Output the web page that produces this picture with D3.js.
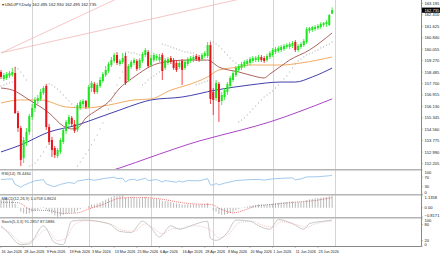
<!DOCTYPE html>
<html>
<head>
<meta charset="utf-8">
<script src="https://cdn.jsdelivr.net/npm/d3@7"></script>
<style>
  body { margin: 0; background: #fff; }
  svg { display: block; font-family: "Liberation Sans", Arial, sans-serif; }
</style>
</head>
<body>
<svg id="chart"></svg>
<script>
// Daily USDJPY bars, 16 Jan 2026 .. 30 Jun 2026
const opens = [158.49,158.01,158.08,158.22,158.28,158.42,155.67,154.64,152.58,153.75,
  154.37,155.40,156.02,156.50,156.64,157.05,157.53,154.71,153.82,153.27,
  152.72,153.00,153.68,154.44,154.92,155.33,154.92,154.51,156.02,156.29,
  156.50,156.09,157.39,157.67,157.12,157.53,157.87,158.28,158.56,158.97,
  159.25,159.66,159.04,159.18,159.59,157.94,158.83,159.11,159.25,158.77,
  159.25,159.66,159.86,158.97,159.31,159.45,159.31,159.66,158.77,159.11,
  159.45,159.31,159.11,158.83,159.25,158.77,159.04,159.25,159.31,159.59,
  159.52,159.38,159.59,159.59,160.34,157.12,156.70,157.67,156.50,156.77,
  157.12,157.53,157.94,158.28,158.63,158.77,158.90,159.04,159.11,159.25,
  159.31,159.31,159.52,159.45,159.31,159.52,159.66,159.86,159.93,160.00,
  160.07,160.21,160.21,160.28,160.55,160.00,160.21,160.34,160.55,161.31,
  161.38,161.44,161.51,161.58,161.72,161.79,161.72,162.495];
const highs = [158.63,158.42,158.49,158.56,158.77,158.83,155.81,154.78,154.03,154.64,
  155.61,156.29,156.77,156.91,157.32,157.53,157.67,154.92,154.03,153.41,
  153.27,153.96,154.64,155.19,155.54,155.47,155.19,156.36,156.57,156.64,
  156.57,157.60,157.87,157.80,157.74,158.15,158.49,158.90,159.18,159.52,
  159.80,159.86,159.38,159.80,159.80,159.04,159.31,159.45,159.38,159.45,
  159.86,160.14,160.00,159.66,159.80,159.73,159.73,159.80,159.45,159.52,
  159.59,159.45,159.31,159.25,159.38,159.31,159.52,159.59,159.66,159.73,
  159.66,159.80,159.93,160.55,160.55,157.39,157.94,157.80,157.12,157.39,
  157.80,158.22,158.56,158.90,159.04,159.18,159.31,159.38,159.52,159.59,
  159.59,159.66,159.66,159.59,159.73,159.93,160.14,160.21,160.28,160.34,
  160.41,160.48,160.55,160.62,160.69,160.41,160.55,160.76,161.58,161.58,
  161.65,161.72,161.79,161.92,161.92,162.06,162.47,162.930];
const lows = [158.01,157.87,157.94,158.08,158.15,155.61,154.37,152.03,152.24,153.41,
  154.16,155.19,155.74,156.29,156.50,156.91,154.51,153.48,152.65,152.58,
  152.58,152.86,153.55,154.23,154.71,154.71,154.30,154.37,155.88,156.09,
  155.95,156.02,157.12,156.98,156.98,157.39,157.74,158.15,158.42,158.83,
  159.11,158.97,158.90,159.04,157.60,157.80,158.70,158.97,158.56,158.63,
  159.11,159.52,158.77,158.83,159.18,159.25,159.18,157.94,158.63,158.97,
  159.04,158.63,158.49,158.70,157.60,158.63,158.90,159.11,159.18,159.25,
  159.18,159.25,159.45,159.45,156.29,155.54,156.50,155.06,156.22,156.57,
  156.91,157.39,157.80,158.15,158.49,158.63,158.77,158.90,158.97,159.11,
  159.18,159.18,159.18,159.11,159.18,159.38,159.52,159.73,159.80,159.86,
  159.93,160.07,160.07,160.14,159.86,159.86,160.07,160.21,160.41,161.17,
  161.24,161.31,161.38,161.44,161.58,161.58,161.65,162.495];
const closes = [158.15,158.28,158.35,158.42,158.49,155.67,154.64,152.45,153.82,154.37,
  155.47,156.02,156.57,156.70,157.12,157.39,154.71,153.68,153.13,152.79,
  153.13,153.82,154.51,155.06,155.40,154.92,154.44,156.22,156.43,156.50,
  156.09,157.46,157.74,157.12,157.60,157.94,158.35,158.63,159.04,159.31,
  159.66,159.11,159.25,159.45,157.74,158.90,159.18,159.31,158.70,159.31,
  159.73,160.00,158.90,159.45,159.66,159.59,159.52,158.56,159.31,159.38,
  159.18,158.77,158.63,159.11,158.63,159.18,159.38,159.45,159.52,159.38,
  159.31,159.66,159.80,160.34,156.64,156.57,157.74,156.43,156.91,157.25,
  157.67,158.08,158.42,158.77,158.90,159.04,159.18,159.25,159.38,159.45,
  159.47,159.52,159.31,159.25,159.59,159.80,160.00,160.07,160.14,160.21,
  160.28,160.34,160.41,160.48,160.00,160.28,160.41,160.62,161.44,161.51,
  161.58,161.58,161.65,161.79,161.86,161.92,162.40,162.735];

// Parabolic SAR dots
const sar = [157.53,157.60,157.67,157.74,157.80,158.83,158.70,158.49,158.22,157.94,
  152.03,152.10,152.24,152.45,152.72,153.00,153.34,157.67,157.60,157.46,
  157.32,157.12,156.91,156.70,156.50,156.29,156.09,152.03,152.31,152.58,
  152.86,153.13,153.48,153.82,154.16,154.58,154.99,155.47,155.95,156.50,
  157.05,157.60,158.08,158.49,159.86,159.86,159.80,159.80,159.73,159.66,
  157.60,157.74,157.94,158.08,158.22,158.35,158.49,160.41,160.34,160.28,
  160.21,160.14,160.07,160.00,159.93,159.86,159.86,159.80,159.80,157.60,
  157.67,157.74,157.80,157.87,160.62,160.55,160.41,160.28,160.07,159.86,
  159.66,159.45,159.25,159.11,155.06,155.19,155.33,155.54,155.74,155.95,
  156.15,156.36,156.57,156.77,156.91,157.05,157.19,157.39,157.60,157.80,
  158.01,158.22,158.49,158.77,159.04,159.25,159.38,159.52,159.66,159.73,
  159.80,159.93,160.00,160.14,160.21,160.34,160.41,160.55];

// moving averages: [bar index, price]
const maFast = [[0,157.39],[4,157.25],[10,156.57],[17,155.67],[22,154.78],[25,154.58],[27,154.64],
  [30,155.33],[34,155.88],[38,156.43],[42,157.39],[46,158.01],[49,158.42],[53,158.90],[58,159.18],
  [66,159.31],[73,159.31],[77,158.83],[84,158.49],[88,158.28],[93,158.08],[95,158.35],[99,158.90],
  [102,159.31],[109,160.00],[113,160.55],[117,161.17]];
const maMid = [[0,156.36],[7,156.57],[14,156.57],[23,156.09],[30,156.02],[38,156.22],[47,156.57],
  [53,156.64],[60,157.25],[66,157.60],[73,158.15],[77,158.63],[84,158.83],[88,158.97],[99,158.97],
  [106,159.11],[117,159.52]];
const maSlow = [[0,153.00],[7,153.48],[17,154.37],[27,154.85],[35,155.40],[42,155.88],[49,156.36],
  [53,156.57],[64,156.77],[76,157.25],[88,157.60],[99,157.80],[104,157.80],[110,158.15],[117,158.76]];
const maLong = [[36,151.55],[42,151.90],[53,152.65],[70,153.75],[85,154.51],[95,155.06],[105,155.74],[117,156.64]];
const trendLines = [[[0,159.80],[60,165.25]], [[0,159.80],[117,164.93]]];

const priceTicks = [152.205,152.990,153.775,154.560,155.345,156.130,156.915,157.700,
  158.485,159.270,160.055,160.840,161.625,162.410,163.195];
const lastPrice = 162.735;

// RSI(14)
const rsi = [[0,60],[2,62],[4,63],[5,40],[7,28],[8,36],[10,46],[12,55],[15,60],[16,42],[18,33],
  [19,31],[21,40],[24,48],[26,44],[27,54],[31,62],[33,57],[36,64],[40,70],[41,64],[43,66],[44,50],
  [45,58],[47,62],[48,56],[51,66],[52,56],[55,60],[57,50],[58,56],[62,49],[63,54],[64,50],[66,56],
  [70,55],[73,64],[74,38],[75,37],[76,44],[77,38],[79,45],[83,56],[88,60],[91,61],[93,58],[96,63],
  [100,66],[103,67],[104,59],[106,63],[108,71],[112,72],[116,76],[117,78]];
const rsiTicks = [0,30,70,100];

// MACD(12,26,9)
const macd = [0.75,0.72,0.70,0.68,0.66,0.35,0.05,-0.35,-0.50,-0.55,
  -0.50,-0.40,-0.28,-0.18,-0.05,0.05,-0.15,-0.35,-0.52,-0.68,
  -0.80,-0.74,-0.62,-0.52,-0.45,-0.42,-0.42,-0.25,-0.12,-0.02,
  0.02,0.15,0.28,0.30,0.38,0.48,0.60,0.72,0.85,0.95,
  1.05,1.08,1.10,1.13,0.90,0.88,0.90,0.92,0.85,0.85,
  0.90,0.95,0.85,0.82,0.80,0.78,0.75,0.62,0.60,0.58,
  0.52,0.45,0.38,0.36,0.28,0.28,0.30,0.30,0.31,0.30,
  0.28,0.30,0.32,0.42,0.02,-0.25,-0.35,-0.55,-0.62,-0.62,
  -0.55,-0.45,-0.35,-0.22,-0.12,-0.02,0.06,0.12,0.18,0.22,
  0.26,0.30,0.30,0.28,0.30,0.34,0.38,0.42,0.45,0.48,
  0.50,0.52,0.54,0.56,0.50,0.50,0.52,0.55,0.68,0.75,
  0.80,0.84,0.87,0.90,0.92,0.95,1.02,1.08];
const macdSignal = [[0,0.50],[6,0.45],[11,-0.20],[17,-0.25],[22,-0.50],[27,-0.45],[31,-0.10],
  [36,0.30],[42,0.85],[48,0.92],[53,0.88],[58,0.72],[64,0.45],[70,0.32],[74,0.30],[78,-0.15],
  [82,-0.45],[86,-0.20],[90,0.15],[96,0.30],[104,0.50],[110,0.62],[117,0.90]];
const macdTicks = [-0.8171,0,1.1358];

// Stochastic(5,3,3)
const stochMain = [[0,75],[2,55],[7,5],[10,8],[15,75],[19,12],[22,5],[25,92],[29,96],[38,83],
  [42,54],[46,50],[50,92],[53,68],[56,33],[60,75],[63,62],[67,75],[73,92],[74,29],[76,21],
  [80,50],[83,96],[88,92],[91,75],[95,62],[98,98],[103,83],[107,62],[109,83],[114,92],[117,96]];
const stochSignal = [[0,70],[3,50],[8,10],[11,20],[16,60],[20,20],[23,30],[26,80],[30,94],[39,80],
  [43,58],[47,55],[51,82],[54,65],[57,45],[61,65],[64,65],[68,75],[74,60],[77,30],[81,50],
  [84,85],[89,92],[92,78],[96,70],[99,90],[104,80],[108,70],[111,82],[115,90],[117,92]];
const stochTicks = [0,20,80,100];

const W = 440, H = 254;
const plotRight = 421;
const mainTop = 0, mainBottom = 169;
const rsiTop = 170, rsiBottom = 194;
const macdTop = 195, macdBottom = 217;
const stochTop = 218, stochBottom = 246;

// dates for each bar (weekdays)
const dates = [];
for (let d = new Date(2026, 0, 16); dates.length < closes.length; d.setDate(d.getDate() + 1)) {
  if (d.getDay() !== 0 && d.getDay() !== 6) dates.push(new Date(d));
}
const fmtDate = d3.timeFormat("%-d %b %Y");

const svg = d3.select("#chart").attr("width", W).attr("height", H);
svg.append("rect").attr("width", W).attr("height", H).attr("fill", "#fff");

const x = d3.scaleLinear().domain([0, closes.length - 1]).range([1, 332.1]);
const y = d3.scaleLinear().domain([152.205, 163.195]).range([163.5, 3.5]);
const yRsi = d3.scaleLinear().domain([0, 100]).range([rsiBottom, rsiTop]);
const yMacd = d3.scaleLinear().domain([-0.8171, 1.1358]).range([macdBottom, macdTop]);
const yStoch = d3.scaleLinear().domain([0, 100]).range([stochBottom, stochTop + 1]);

// clip regions
const defs = svg.append("defs");
[["clipMain", mainTop, mainBottom], ["clipRsi", rsiTop, rsiBottom],
 ["clipMacd", macdTop, macdBottom], ["clipStoch", stochTop, stochBottom]].forEach(c => {
  defs.append("clipPath").attr("id", c[0]).append("rect")
    .attr("x", 0).attr("y", c[1]).attr("width", plotRight).attr("height", c[2] - c[1]);
});

// month separators
const monthStarts = [];
dates.forEach((d, i) => { if (i > 0 && d.getMonth() !== dates[i - 1].getMonth()) monthStarts.push(i); });
monthStarts.push(closes.length);
svg.append("g").selectAll("line").data(monthStarts).join("line")
  .attr("x1", d => Math.round(x(d)) + 0.5).attr("x2", d => Math.round(x(d)) + 0.5)
  .attr("y1", 0).attr("y2", stochBottom)
  .attr("stroke", "#d4d4d4").attr("stroke-width", 1);

// main panel
const gMain = svg.append("g").attr("clip-path", "url(#clipMain)");
const lineIdx = d3.line().x(d => x(d[0])).y(d => y(d[1]));

gMain.selectAll(".trend").data(trendLines).join("path")
  .attr("d", lineIdx).attr("fill", "none").attr("stroke", "#f2b8b8").attr("stroke-width", 0.8);

const maDefs = [[maLong, "#a030c0"], [maSlow, "#2a2aa0"], [maMid, "#f0a050"], [maFast, "#a0524d"]];
maDefs.forEach(m => {
  gMain.append("path").datum(m[0])
    .attr("d", lineIdx.curve(d3.curveMonotoneX))
    .attr("fill", "none").attr("stroke", m[1]).attr("stroke-width", 0.9);
});

gMain.selectAll(".sar").data(sar).join("rect")
  .attr("x", (d, i) => x(i) - 0.5).attr("y", d => y(d) - 0.5)
  .attr("width", 1).attr("height", 1).attr("fill", "#a8a8a8");

const bars = closes.map((c, i) => ({ i, o: opens[i], h: highs[i], l: lows[i], c }));
const upCol = "#1ee61e", dnCol = "#e8141c";
gMain.selectAll(".wick").data(bars).join("line")
  .attr("x1", d => x(d.i)).attr("x2", d => x(d.i))
  .attr("y1", d => y(d.h)).attr("y2", d => y(d.l))
  .attr("stroke", d => d.c >= d.o ? upCol : dnCol).attr("stroke-width", 0.8);
gMain.selectAll(".body").data(bars).join("rect")
  .attr("x", d => x(d.i) - 1).attr("width", 2)
  .attr("y", d => y(Math.max(d.o, d.c)))
  .attr("height", d => Math.max(1, Math.abs(y(d.o) - y(d.c))))
  .attr("fill", d => d.c >= d.o ? upCol : dnCol);

// title
svg.append("text").attr("x", 1.5).attr("y", 6).attr("font-size", 4.2).attr("fill", "#222")
  .text("\u25BE USDJPY,Daily  162.495 162.930 162.495 162.735");

// RSI panel
svg.append("g").attr("clip-path", "url(#clipRsi)").append("path").datum(rsi)
  .attr("d", d3.line().x(d => x(d[0])).y(d => yRsi(d[1])))
  .attr("fill", "none").attr("stroke", "#8cbbe8").attr("stroke-width", 0.8);
svg.append("text").attr("x", 1.5).attr("y", rsiTop + 5).attr("font-size", 4).attr("fill", "#333")
  .text("RSI(14) 78.4460");

// MACD panel
const gMacd = svg.append("g").attr("clip-path", "url(#clipMacd)");
gMacd.selectAll("line").data(macd).join("line")
  .attr("x1", (d, i) => x(i)).attr("x2", (d, i) => x(i))
  .attr("y1", yMacd(0)).attr("y2", d => yMacd(d))
  .attr("stroke", "#9a9a9a").attr("stroke-width", 0.7);
gMacd.append("path").datum(macdSignal)
  .attr("d", d3.line().x(d => x(d[0])).y(d => yMacd(d[1])).curve(d3.curveMonotoneX))
  .attr("fill", "none").attr("stroke", "#e04040").attr("stroke-width", 0.7)
  .attr("stroke-dasharray", "1,1");
svg.append("text").attr("x", 1.5).attr("y", macdTop + 5).attr("font-size", 4).attr("fill", "#333")
  .text("MACD(12,26,9) 1.0758 0.8624");

// Stochastic panel
const gSto = svg.append("g").attr("clip-path", "url(#clipStoch)");
gSto.append("path").datum(stochMain)
  .attr("d", d3.line().x(d => x(d[0])).y(d => yStoch(d[1])).curve(d3.curveMonotoneX))
  .attr("fill", "none").attr("stroke", "#bcbcbc").attr("stroke-width", 0.8);
gSto.append("path").datum(stochSignal)
  .attr("d", d3.line().x(d => x(d[0])).y(d => yStoch(d[1])).curve(d3.curveMonotoneX))
  .attr("fill", "none").attr("stroke", "#e8b0b0").attr("stroke-width", 0.7)
  .attr("stroke-dasharray", "1,1");
svg.append("text").attr("x", 1.5).attr("y", stochTop + 5).attr("font-size", 4).attr("fill", "#333")
  .text("Stoch(5,3,3) 91.2857 87.5886");

// panel separators
[mainBottom, rsiBottom, macdBottom].forEach(v => {
  svg.append("rect").attr("x", 0).attr("y", v).attr("width", plotRight + 1).attr("height", 1.5)
    .attr("fill", "#b4b4b4");
});
svg.append("line").attr("x1", 0).attr("x2", plotRight + 0.5)
  .attr("y1", stochBottom + 0.5).attr("y2", stochBottom + 0.5).attr("stroke", "#888");
svg.append("line").attr("x1", plotRight + 0.5).attr("x2", plotRight + 0.5)
  .attr("y1", 0).attr("y2", stochBottom + 0.5).attr("stroke", "#888");

// right axes
function rightAxis(scale, ticks, fmt, top, bottom) {
  const g = svg.append("g").attr("font-size", 4.1).attr("fill", "#222");
  ticks.forEach(t => {
    const py = Math.min(Math.max(scale(t), top + 2.5), bottom - 1.5);
    g.append("line").attr("x1", plotRight).attr("x2", plotRight + 2)
      .attr("y1", scale(t)).attr("y2", scale(t)).attr("stroke", "#888").attr("stroke-width", 0.5);
    g.append("text").attr("x", plotRight + 3.5).attr("y", py).attr("dy", "0.35em").text(fmt(t));
  });
}
rightAxis(y, priceTicks, d3.format(".3f"), mainTop, mainBottom);
rightAxis(yRsi, rsiTicks, d3.format("d"), rsiTop, rsiBottom);
rightAxis(yMacd, macdTicks, t => t === 0 ? "0.00" : d3.format(".4f")(t), macdTop, macdBottom);
rightAxis(yStoch, stochTicks, d3.format("d"), stochTop, stochBottom);

// last price marker
svg.append("rect").attr("x", plotRight + 1).attr("y", y(lastPrice) - 2.6)
  .attr("width", W - plotRight - 1).attr("height", 5.2).attr("fill", "#000");
svg.append("text").attr("x", plotRight + 3.5).attr("y", y(lastPrice)).attr("dy", "0.35em")
  .attr("font-size", 4.1).attr("fill", "#fff").text(d3.format(".3f")(lastPrice));

// time axis
const labelIdx = d3.range(0, closes.length, 8);
const gTime = svg.append("g").attr("font-size", 3.7).attr("fill", "#222");
labelIdx.forEach(i => {
  gTime.append("line").attr("x1", x(i)).attr("x2", x(i))
    .attr("y1", stochBottom).attr("y2", stochBottom + 2).attr("stroke", "#888").attr("stroke-width", 0.5);
  gTime.append("text").attr("x", x(i) + 0.5).attr("y", 252.5).text(fmtDate(dates[i]));
});
</script>
</body>
</html>
